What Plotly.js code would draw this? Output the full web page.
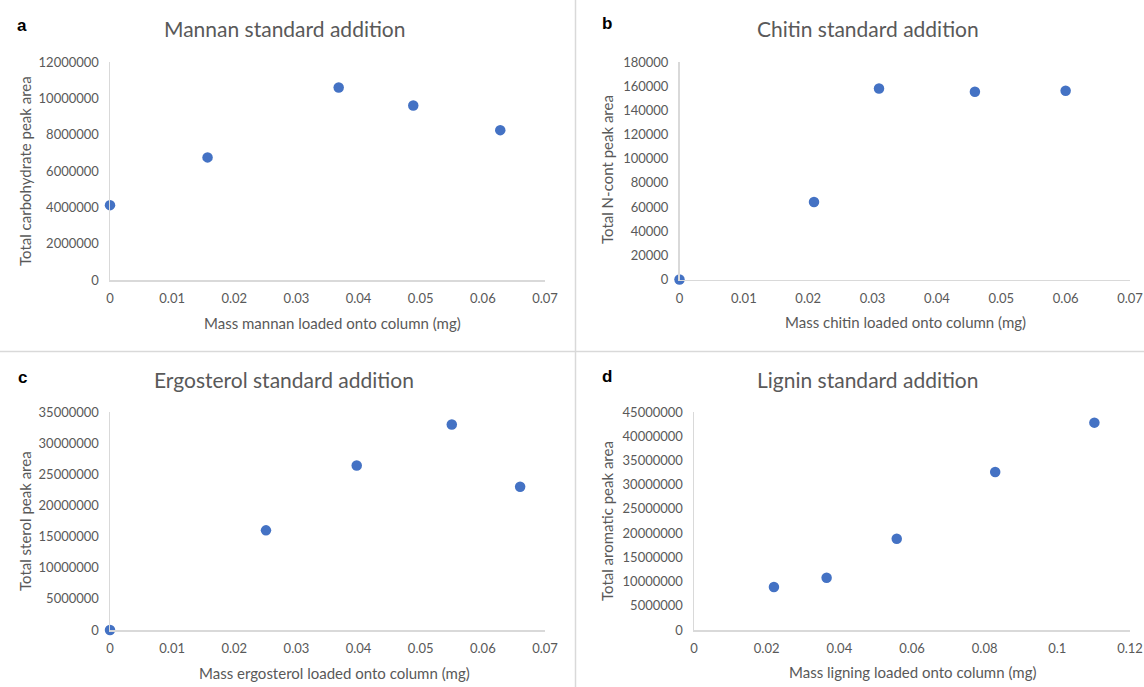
<!DOCTYPE html>
<html><head><meta charset="utf-8">
<script src="https://cdn.plot.ly/plotly-3.0.1.min.js"></script>
<style>html,body{margin:0;padding:0;background:#fff}#chart{width:1144px;height:687px}</style>
</head><body><div id="chart"></div>
<script>
// Data
const mannanMass = [0, 0.0157, 0.0368, 0.0488, 0.0628];
const mannanArea = [4120000, 6750000, 10600000, 9610000, 8250000];
const chitinMass = [0, 0.0209, 0.0310, 0.0459, 0.0600];
const chitinArea = [0, 64200, 158100, 155400, 156200];
const ergoMass = [0, 0.0251, 0.0397, 0.0550, 0.0660];
const ergoArea = [0, 16000000, 26400000, 33000000, 23000000];
const ligninMass = [0.0220, 0.0365, 0.0558, 0.0829, 0.1102];
const ligninArea = [8880000, 10800000, 18850000, 32600000, 42800000];

const panelLetters = ['a', 'b', 'c', 'd'];
const panelTitles = ['Mannan standard addition', 'Chitin standard addition', 'Ergosterol standard addition', 'Lignin standard addition'];
const xTitles = ['Mass mannan loaded onto column (mg)', 'Mass chitin loaded onto column (mg)', 'Mass ergosterol loaded onto column (mg)', 'Mass ligning loaded onto column (mg)'];
const yTitles = ['Total carbohydrate peak area', 'Total N-cont peak area', 'Total sterol peak area', 'Total aromatic peak area'];
const xRanges = [[0, 0.07], [0, 0.07], [0, 0.07], [0, 0.12]];
const xDtick = [0.01, 0.01, 0.01, 0.02];
const yRanges = [[0, 12000000], [0, 180000], [0, 35000000], [0, 45000000]];
const yDtick = [2000000, 20000, 5000000, 5000000];

const W = 1144, H = 687;
// plot areas in pixels [x0, x1, yTop, yBottom]
const boxes = [[110, 545, 62, 280], [679.5, 1130, 62, 279.5], [110, 545, 412, 630], [694, 1130, 412, 630]];
const titlePos = [[285, 29], [868, 28], [284, 379], [868, 379]];
const letterPos = [[22, 25], [607, 24], [22, 377], [607, 376]];
const xtPos = [[332, 323], [905, 322], [334, 673], [912, 672]];
const ytPos = [[25, 171], [607, 170], [25, 521], [607, 521]];

const xs = [mannanMass, chitinMass, ergoMass, ligninMass];
const ys = [mannanArea, chitinArea, ergoArea, ligninArea];

const font = 'Lato, "Open Sans", sans-serif';
const grey = '#595959';
const traces = [];
const layout = {
  width: W, height: H, margin: {l: 0, r: 0, t: 0, b: 0},
  paper_bgcolor: '#fff', plot_bgcolor: '#fff', showlegend: false,
  annotations: [], shapes: []
};
for (let i = 0; i < 4; i++) {
  const s = i === 0 ? '' : String(i + 1);
  traces.push({
    x: xs[i], y: ys[i], type: 'scatter', mode: 'markers',
    xaxis: 'x' + s, yaxis: 'y' + s,
    marker: {color: '#4472C4', size: 10.5}, cliponaxis: false
  });
  const b = boxes[i];
  layout['xaxis' + s] = {
    domain: [b[0] / W, b[1] / W], anchor: 'y' + s,
    range: xRanges[i], dtick: xDtick[i], tick0: 0,
    showgrid: false, zeroline: false, showline: true, linecolor: '#d9d9d9', linewidth: 1.5,
    ticks: 'outside', ticklen: 6, tickcolor: 'rgba(0,0,0,0)',
    tickfont: {family: font, size: 13, color: grey}, fixedrange: true
  };
  layout['yaxis' + s] = {
    domain: [1 - b[3] / H, 1 - b[2] / H], anchor: 'x' + s,
    range: yRanges[i], dtick: yDtick[i], tick0: 0,
    showgrid: false, zeroline: false, showline: true, linecolor: '#d9d9d9', linewidth: 1.5,
    ticks: 'outside', ticklen: 7, tickcolor: 'rgba(0,0,0,0)', tickformat: 'd',
    tickfont: {family: font, size: 13, color: grey}, fixedrange: true
  };
  layout.annotations.push({
    xref: 'paper', yref: 'paper', x: titlePos[i][0] / W, y: 1 - titlePos[i][1] / H,
    text: panelTitles[i], showarrow: false, xanchor: 'center', yanchor: 'middle',
    font: {family: font, size: 21, color: grey}
  });
  layout.annotations.push({
    xref: 'paper', yref: 'paper', x: letterPos[i][0] / W, y: 1 - letterPos[i][1] / H,
    text: '<b>' + panelLetters[i] + '</b>', showarrow: false, xanchor: 'center', yanchor: 'middle',
    font: {family: 'Liberation Sans, Arial, sans-serif', size: 17, color: '#000'}
  });
  layout.annotations.push({
    xref: 'paper', yref: 'paper', x: xtPos[i][0] / W, y: 1 - xtPos[i][1] / H,
    text: xTitles[i], showarrow: false, xanchor: 'center', yanchor: 'middle',
    font: {family: font, size: 15, color: grey}
  });
  layout.annotations.push({
    xref: 'paper', yref: 'paper', x: ytPos[i][0] / W, y: 1 - ytPos[i][1] / H,
    text: yTitles[i], showarrow: false, xanchor: 'center', yanchor: 'middle', textangle: -90,
    font: {family: font, size: 15, color: grey}
  });
}
// panel dividers
layout.shapes.push({type: 'line', xref: 'paper', yref: 'paper', x0: 575.5 / W, x1: 575.5 / W, y0: 0, y1: 1, line: {color: '#d9d9d9', width: 1.5}});
layout.shapes.push({type: 'line', xref: 'paper', yref: 'paper', x0: 0, x1: 1, y0: 1 - 351.5 / H, y1: 1 - 351.5 / H, line: {color: '#d9d9d9', width: 1.5}});

Plotly.newPlot('chart', traces, layout, {displayModeBar: false, staticPlot: true});
</script>
</body></html>
